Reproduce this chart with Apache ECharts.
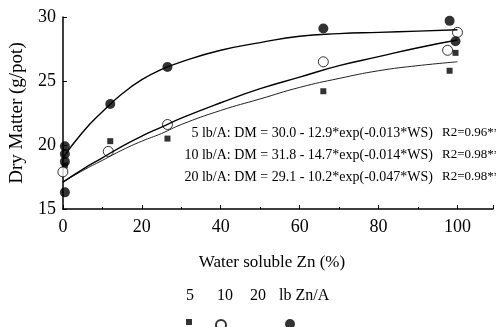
<!DOCTYPE html>
<html>
<head>
<meta charset="utf-8">
<script src="https://cdn.jsdelivr.net/npm/echarts@6/dist/echarts.min.js"></script>
<style>
  html, body {margin: 0; padding: 0; background: #fff;}
  #main {width: 496px; height: 327px;}
</style>
</head>
<body>
<div id="main"></div>
<script>
// observed points (WS %, dry matter g/pot)
const pts5 = [[0.5, 18.4], [12, 20.3], [26.5, 20.5], [66, 24.2], [98, 25.8], [99.5, 27.2]];
const pts10 = [[0, 17.9], [11.5, 19.5], [26.5, 21.6], [66, 26.5], [97.5, 27.4], [100, 28.8]];
const pts20 = [[0.5, 19.9], [0.5, 19.3], [0.5, 18.7], [0.5, 16.3], [12, 23.2], [26.5, 26.1], [66, 29.1], [98, 29.7], [99.5, 28.1]];

// fitted curves
const curveX = [0, 5, 10, 15, 20, 25, 30, 40, 50, 60, 70, 80, 90, 100];
const curve5 = [17.1, 18.0, 18.8, 19.6, 20.3, 20.9, 21.6, 22.7, 23.6, 24.5, 25.2, 25.8, 26.2, 26.5];
const curve10 = [17.1, 18.1, 19.0, 19.9, 20.7, 21.4, 22.1, 23.3, 24.4, 25.3, 26.2, 26.9, 27.6, 28.2];
const curve20 = [19.0, 21.0, 22.6, 24.0, 25.1, 25.9, 26.5, 27.4, 28.0, 28.5, 28.7, 28.8, 28.9, 29.0];

const eqLines = [
  '5 lb/A: DM = 30.0 - 12.9*exp(-0.013*WS)',
  '10 lb/A: DM = 31.8 - 14.7*exp(-0.014*WS)',
  '20 lb/A: DM = 29.1 - 10.2*exp(-0.047*WS)'
];
const r2Lines = ['R2=0.96**', 'R2=0.98**', 'R2=0.98**'];
const legendWords = ['5', '10', '20', 'lb Zn/A'];

const serif = '"Liberation Serif", "DejaVu Serif", serif';

function toPairs(ys) {
  return curveX.map((x, i) => [x, ys[i]]);
}

const chart = echarts.init(document.getElementById('main'));

const textGraphics = [];
eqLines.forEach((t, i) => {
  textGraphics.push({
    type: 'text', right: 63, top: 126 + i * 22,
    style: {text: t, font: '14px ' + serif, fill: '#000', textAlign: 'right'}
  });
  textGraphics.push({
    type: 'text', left: 442, top: 126 + i * 22,
    style: {text: r2Lines[i], font: '13px ' + serif, fill: '#000'}
  });
});
const wordLeft = [186, 217, 250, 279];
legendWords.forEach((w, i) => {
  textGraphics.push({
    type: 'text', left: wordLeft[i], top: 288,
    style: {text: w, font: '16px ' + serif, fill: '#000'}
  });
});

function legendAt(name, left, size) {
  return {
    data: [name], left: left, top: 319, itemWidth: size, itemHeight: size,
    formatter: () => '', selectedMode: false, padding: 0
  };
}

const option = {
  animation: false,
  grid: {left: 60, top: 17, right: 0, bottom: 118},
  xAxis: {
    type: 'value', min: 0, max: 109, interval: 20,
    axisLine: {lineStyle: {color: '#000', width: 1.5}},
    axisTick: {inside: true, length: 4, lineStyle: {color: '#000'}},
    minorTick: {show: true, splitNumber: 2, length: 2, lineStyle: {color: '#000'}},
    axisLabel: {
      color: '#000', fontFamily: serif, fontSize: 18, margin: 9,
      formatter: v => (v % 20 === 0 ? String(v) : '')
    },
    splitLine: {show: false},
    name: 'Water soluble Zn (%)', nameLocation: 'middle', nameGap: 45,
    nameTextStyle: {color: '#000', fontFamily: serif, fontSize: 17, padding: [0, 12, 0, 0]}
  },
  yAxis: {
    type: 'value', min: 15, max: 30, interval: 5,
    axisLine: {show: true, lineStyle: {color: '#000', width: 1.5}},
    axisTick: {show: true, inside: true, length: 4, lineStyle: {color: '#000'}},
    axisLabel: {color: '#000', fontFamily: serif, fontSize: 18, margin: 7},
    splitLine: {show: false},
    name: 'Dry Matter (g/pot)', nameLocation: 'middle', nameGap: 34,
    nameTextStyle: {color: '#000', fontFamily: serif, fontSize: 19}
  },
  legend: [legendAt('5 lb/A', 186, 6), legendAt('10 lb/A', 215, 10), legendAt('20 lb/A', 285, 10)],
  series: [
    {name: 'fit 5', type: 'line', data: toPairs(curve5), smooth: true, symbol: 'none',
      lineStyle: {color: '#222', width: 1}},
    {name: 'fit 10', type: 'line', data: toPairs(curve10), smooth: true, symbol: 'none',
      lineStyle: {color: '#000', width: 1.4}},
    {name: 'fit 20', type: 'line', data: toPairs(curve20), smooth: true, symbol: 'none',
      lineStyle: {color: '#000', width: 1.4}},
    {name: '5 lb/A', type: 'scatter', data: pts5, symbol: 'rect', symbolSize: 6,
      itemStyle: {color: '#000'}},
    {name: '10 lb/A', type: 'scatter', data: pts10, symbol: 'circle', symbolSize: 10,
      itemStyle: {color: '#fff', borderColor: '#000', borderWidth: 1}},
    {name: '20 lb/A', type: 'scatter', data: pts20, symbol: 'circle', symbolSize: 10,
      itemStyle: {color: '#000'}}
  ],
  graphic: textGraphics
};

chart.setOption(option);
</script>
</body>
</html>
